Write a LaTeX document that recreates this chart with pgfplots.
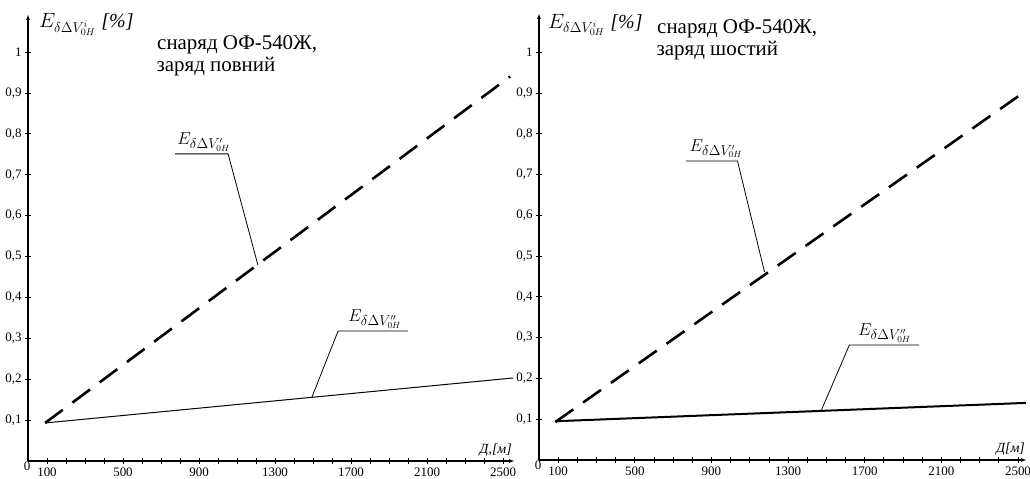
\documentclass[border=0pt]{standalone}
\usepackage{fontspec}
\setmainfont{Liberation Serif}
\usepackage{pgfplots}
\pgfplotsset{compat=1.18}
\usetikzlibrary{arrows.meta}

\tikzset{
  leader/.style={line width=0.8bp},
  dashedline/.style={line width=2.6bp, dash pattern=on 22bp off 12bp},
}
\pgfplotsset{
  myaxis/.style={
    scale only axis,
    axis lines=left,
    axis line style={line width=1.2bp, -{Latex[length=6bp,width=4bp]}},
    xmin=0, ymin=0,
    xtick={100,500,900,1300,1700,2100,2500},
    minor xtick={200,300,400,600,700,800,1000,1100,1200,1400,1500,1600,1800,1900,2000,2200,2300,2400},
    ytick={0.1,0.2,0.3,0.4,0.5,0.6,0.7,0.8,0.9,1},
    tick align=center,
    major tick length=6bp, minor tick length=6bp,
    every tick/.style={black, line width=0.8bp},
    tick label style={font=\fontsize{13}{13}\selectfont},
    /pgf/number format/assume math mode=true,
    /pgf/number format/use comma,
    /pgf/number format/1000 sep={},
    extra x ticks={0},
    extra x tick style={major tick length=0pt, tick label style={xshift=-1bp, yshift=3bp}},
    clip=false,
    anchor=south west,
  },
}

\begin{document}
\begin{tikzpicture}
\useasboundingbox (0,0) rectangle (1030bp,479bp);

% ---------- left panel ----------
\begin{axis}[myaxis, at={(28bp,18bp)}, width=487bp, height=447bp, xmax=2563, ymax=1.093]
\addplot[black, dashedline] coordinates {(90,0.093) (2537,0.94)};
\addplot[black, line width=1bp] coordinates {(90,0.093) (2553,0.203)};
\draw[leader] (axis cs:774,0.751) -- (axis cs:1053,0.751) -- (axis cs:1210,0.479);
\node[anchor=south west, inner sep=0pt, font=\fontsize{19}{19}\selectfont] at (axis cs:785,0.757) {$E_{\delta\Delta V'_{0H}}$};
\draw[leader] (axis cs:2000,0.318) -- (axis cs:1632,0.318) -- (axis cs:1495,0.157);
\node[anchor=south west, inner sep=0pt, font=\fontsize{19}{19}\selectfont] at (axis cs:1685,0.324) {$E_{\delta\Delta V''_{0H}}$};
\node[anchor=base west, inner sep=0pt, font=\fontsize{20}{20}\selectfont] at (axis cs:58,1.059) {$E_{\delta\Delta V^{i}_{0H}}$\;\textit{[\%]}};
\node[anchor=base west, inner sep=0pt, font=\fontsize{21}{21}\selectfont] at (axis cs:679,1.005) {снаряд ОФ-540Ж,};
\node[anchor=base west, inner sep=0pt, font=\fontsize{21}{21}\selectfont] at (axis cs:676,0.953) {заряд повний};
\node[anchor=south east, inner sep=0pt, font=\fontsize{14}{14}\selectfont\itshape] at (axis cs:2547,0.012) {Д,[м]};
\end{axis}

% ---------- right panel ----------
\begin{axis}[myaxis, at={(539bp,19bp)}, width=488bp, height=447bp, xmax=2547, ymax=1.096]
\addplot[black, dashedline] coordinates {(85,0.093) (2526,0.90)};
\addplot[black, line width=2bp] coordinates {(85,0.095) (2541,0.14)};
\draw[leader] (axis cs:766,0.733) -- (axis cs:1036,0.733) -- (axis cs:1177,0.461);
\node[anchor=south west, inner sep=0pt, font=\fontsize{19}{19}\selectfont] at (axis cs:785,0.740) {$E_{\delta\Delta V'_{0H}}$};
\draw[leader] (axis cs:1984,0.282) -- (axis cs:1620,0.282) -- (axis cs:1474,0.1225);
\node[anchor=south west, inner sep=0pt, font=\fontsize{19}{19}\selectfont] at (axis cs:1665,0.288) {$E_{\delta\Delta V''_{0H}}$};
\node[anchor=base west, inner sep=0pt, font=\fontsize{20}{20}\selectfont] at (axis cs:47,1.059) {$E_{\delta\Delta V^{i}_{0H}}$\;\textit{[\%]}};
\node[anchor=base west, inner sep=0pt, font=\fontsize{21}{21}\selectfont] at (axis cs:616,1.045) {снаряд ОФ-540Ж,};
\node[anchor=base west, inner sep=0pt, font=\fontsize{21}{21}\selectfont] at (axis cs:613,0.992) {заряд шостий};
\node[anchor=south east, inner sep=0pt, font=\fontsize{14}{14}\selectfont\itshape] at (axis cs:2537,0.012) {Д[м]};
\end{axis}
\end{tikzpicture}
\end{document}
